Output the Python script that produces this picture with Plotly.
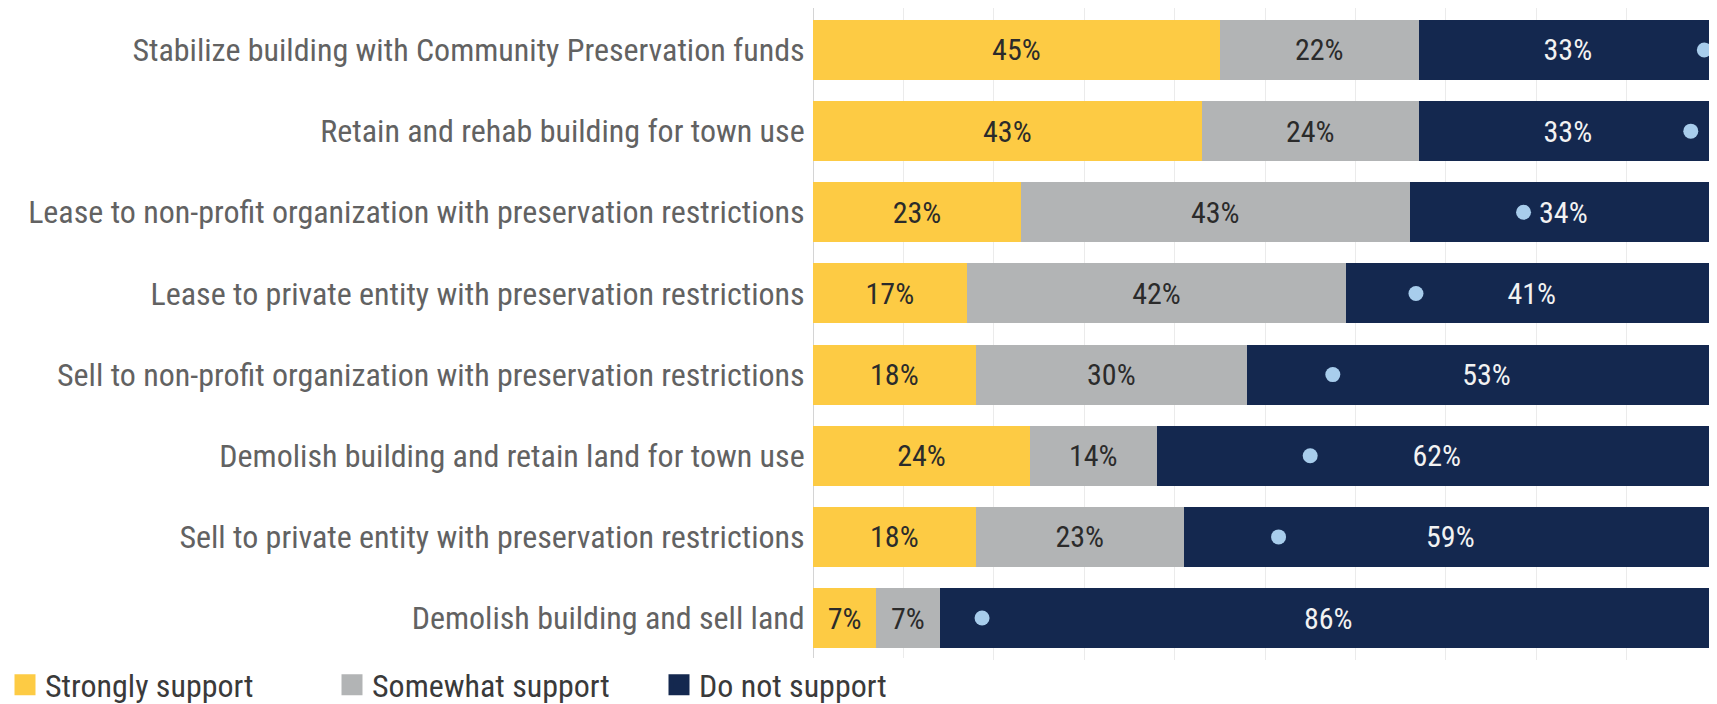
import plotly.graph_objects as go

# ── DATA ───────────────────────────────────────────────
categories = [
    "Stabilize building with Community Preservation funds",
    "Retain and rehab building for town use",
    "Lease to non-profit organization with preservation restrictions",
    "Lease to private entity with preservation restrictions",
    "Sell to non-profit organization with preservation restrictions",
    "Demolish building and retain land for town use",
    "Sell to private entity with preservation restrictions",
    "Demolish building and sell land",
]
strongly = [45, 43, 23, 17, 18, 24, 18, 7]
somewhat = [22, 24, 43, 42, 30, 14, 23, 7]
not_support = [33, 33, 34, 41, 53, 62, 59, 86]
dot_marks = [98.6, 97.1, 78.6, 66.7, 57.5, 55.0, 51.5, 18.7]

FONT = "Liberation Sans Narrow, Roboto Condensed, Liberation Sans, sans-serif"
COLORS = {
    'yellow': '#FDCB44',
    'gray':   '#B2B4B5',
    'navy':   '#14284F',
    'dot':    '#A8CDEC',
    'label':  '#626262',
    'grid':   '#EBEBEB',
}

# the page body has an 8px margin, so the figure is sized to fill the rest
W, H = 1709, 696
M_L, M_B = 805, 44
plot_w, plot_h = W - M_L, H - M_B

fig = go.Figure()

series = [
    ("Strongly support", strongly, COLORS['yellow'], '#2B2B2B'),
    ("Somewhat support", somewhat, COLORS['gray'], '#2B2B2B'),
    ("Do not support", not_support, COLORS['navy'], '#F2F2F2'),
]
for name, vals, col, txt in series:
    fig.add_trace(go.Bar(
        name=name, y=categories, x=vals, orientation='h',
        marker=dict(color=col, line=dict(width=0)),
        text=[f"{v}%" for v in vals], textposition='inside',
        insidetextanchor='middle', constraintext='none',
        textfont=dict(color=txt, size=30, family=FONT),
        hoverinfo='skip', showlegend=False,
    ))

fig.add_trace(go.Scatter(
    y=categories, x=dot_marks, mode='markers',
    marker=dict(color=COLORS['dot'], size=15),
    showlegend=False, hoverinfo='skip',
))

# legend-only entries so the swatches can be bigger than the bar default
for name, _, col, _ in series:
    fig.add_trace(go.Scatter(
        name=name, x=[None], y=[None], mode='markers',
        marker=dict(symbol='square', color=col, size=16,
                    line=dict(color=col, width=5)),
        hoverinfo='skip',
    ))

fig.update_layout(
    width=W, height=H,
    barmode='stack', bargap=0.26,
    paper_bgcolor='white', plot_bgcolor='white',
    font=dict(family=FONT, color=COLORS['label'], size=32),
    margin=dict(l=M_L, r=0, t=0, b=M_B, autoexpand=False),
    xaxis=dict(
        range=[0, 100], dtick=10, showticklabels=False,
        showgrid=True, gridcolor=COLORS['grid'], gridwidth=1,
        zeroline=True, zerolinecolor='#D4D4D4', zerolinewidth=1,
        fixedrange=True,
    ),
    yaxis=dict(
        autorange='reversed', showgrid=False, ticks='', ticklen=0,
        tickfont=dict(size=32, color=COLORS['label']),
        ticksuffix=' ', automargin=False,
    ),
    legend=dict(
        orientation='h', xref='paper', yref='paper',
        x=-(M_L + 3) / plot_w, y=-25 / plot_h,
        xanchor='left', yanchor='middle',
        font=dict(size=32, color='#3A3A3A'),
        traceorder='normal', itemwidth=30, entrywidth=282,
        itemsizing='trace',
    ),
    showlegend=True,
)

fig.write_html("out.html")
